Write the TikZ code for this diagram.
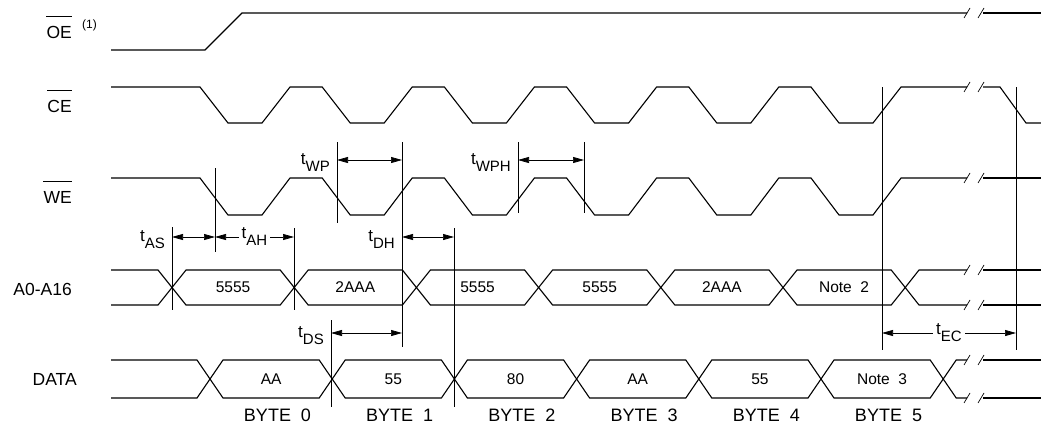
\documentclass[tikz,border=0pt]{standalone}
\usepackage{fontspec}
\setmainfont{Liberation Sans}
\usetikzlibrary{arrows.meta}

\begin{document}
\begin{tikzpicture}[x=1pt, y=-1pt,
    signal/.style={line width=1.1pt},
    guide/.style={line width=0.7pt},
    timing/.style={line width=0.7pt, {Triangle[length=11pt,width=6pt]}-{Triangle[length=11pt,width=6pt]}},
    signame/.style={anchor=base east, inner sep=0pt, font=\fontsize{17.5}{19}\selectfont},
    busval/.style={inner sep=0pt, font=\fontsize{15.5}{17}\selectfont},
    bytename/.style={anchor=base, inner sep=0pt, font=\fontsize{18}{20}\selectfont},
    tlabel/.style={anchor=base east, inner sep=0pt, font=\fontsize{17}{19}\selectfont},
    tmid/.style={fill=white, inner xsep=3pt, inner ysep=1pt, font=\fontsize{17}{19}\selectfont}]
    \def\P{122.2}
    \def\tm#1{t\raisebox{-7pt}{\fontsize{15}{15}\selectfont #1}}

    \useasboundingbox (0,0) rectangle (1041,423);

    \node[signame] (oe) at (72,38) {OE};
    \node[anchor=base west, inner sep=0pt, font=\fontsize{12}{14}\selectfont] (note1) at (82,28) {(1)};
    \node[signame] (ce) at (72,112) {CE};
    \node[signame] (we) at (72,203) {WE};
    \node[signame] (addr) at (72,295) {A0-A16};
    \node[signame] (data) at (77,385) {DATA};
    \foreach \n in {oe, ce, we}
        \draw[guide] ([yshift=9pt]\n.north west) -- ([yshift=9pt]\n.north east);

    % OE, CE, WE
    \draw[signal] (111,50) -- (205,50) -- (242,13) -- (967,13);
    \draw[signal] (983,13) -- (1041,13);
    \foreach \hi/\lo in {87/123, 178/215}
        \draw[signal] (111,\hi) \foreach \k in {0,...,5} {
            -- ({200+\P*\k},\hi) -- ({228+\P*\k},\lo) -- ({262+\P*\k},\lo) -- ({290+\P*\k},\hi)
        } -- (967,\hi);
    \draw[signal] (983,87) -- (1000,87) -- (1026,123) -- (1041,123);
    \draw[signal] (983,178) -- (1041,178);

    % A0-A16
    \draw[signal] (111,270) -- (158,270) -- (172,287.5) -- (158,305) -- (111,305);
    \foreach \k in {0,...,5}
        \draw[signal] ({172+\P*\k},287.5) -- ({186+\P*\k},270) -- ({280.2+\P*\k},270)
            -- ({294.2+\P*\k},287.5) -- ({280.2+\P*\k},305) -- ({186+\P*\k},305) -- cycle;
    \draw[signal] (967,270) -- (919,270) -- (905.2,287.5) -- (919,305) -- (967,305);
    \draw[signal] (983,270) -- (1041,270);
    \draw[signal] (983,305) -- (1041,305);
    \foreach \v [count=\i from 0] in {5555, 2AAA, 5555, 5555, 2AAA, Note\ \ 2}
        \node[busval] (a\i) at ({233.1+\P*\i},287.5) {\v};

    % DATA
    \draw[signal] (111,360) -- (197,360) -- (210,379) -- (197,398) -- (111,398);
    \foreach \k in {0,...,5}
        \draw[signal] ({210+\P*\k},379) -- ({223+\P*\k},360) -- ({319.2+\P*\k},360)
            -- ({332.2+\P*\k},379) -- ({319.2+\P*\k},398) -- ({223+\P*\k},398) -- cycle;
    \draw[signal] (967,360) -- (956.2,360) -- (943.2,379) -- (956.2,398) -- (967,398);
    \draw[signal] (983,360) -- (1041,360);
    \draw[signal] (983,398) -- (1041,398);
    \foreach \v [count=\i from 0] in {AA, 55, 80, AA, 55, Note\ \ 3}
        \node[busval] (d\i) at ({271.1+\P*\i},379) {\v};
    \foreach \i in {0,...,5}
        \node[bytename] (byte\i) at ({277.5+\P*\i},421) {BYTE\ \ \i};

    % break marks
    \foreach \y in {13, 87, 178, 270, 305, 360, 398} {
        \draw[guide] (964,{\y+5}) -- (970,{\y-5});
        \draw[guide] (978,{\y+5}) -- (984,{\y-5});
    }

    % reference lines
    \foreach \x/\a/\b in {172/227/310, 215/168/252, 294/228/310, 337/142/223,
                          402/142/347, 518/142/213, 584/142/213, 331/320/407,
                          454/228/407, 882/87/350, 1016/87/350}
        \draw[guide] (\x,\a) -- (\x,\b);

    \coordinate (as1) at (172,237);
    \coordinate (as2) at (215,237);
    \coordinate (ah2) at (294,237);
    \coordinate (wp1) at (337,160);
    \coordinate (wp2) at (402,160);
    \coordinate (wph1) at (518,160);
    \coordinate (wph2) at (584,160);
    \coordinate (dh1) at (402,237);
    \coordinate (dh2) at (454,237);
    \coordinate (ds1) at (331,333);
    \coordinate (ds2) at (402,333);
    \coordinate (ec1) at (882,333);
    \coordinate (ec2) at (1016,333);

    \draw[timing] (as1) -- (as2);
    \draw[timing] (as2) -- node[tmid] (tah) {\tm{AH}} (ah2);
    \draw[timing] (wp1) -- (wp2);
    \draw[timing] (wph1) -- (wph2);
    \draw[timing] (dh1) -- (dh2);
    \draw[timing] (ds1) -- (ds2);
    \draw[timing] (ec1) -- node[tmid] (tec) {\tm{EC}} (ec2);

    \node[tlabel] (tas) at (165,241) {\tm{AS}};
    \node[tlabel] (twp) at (330,164) {\tm{WP}};
    \node[tlabel] (twph) at (511,164) {\tm{WPH}};
    \node[tlabel] (tdh) at (395,241) {\tm{DH}};
    \node[tlabel] (tds) at (324,337) {\tm{DS}};
\end{tikzpicture}
\end{document}
